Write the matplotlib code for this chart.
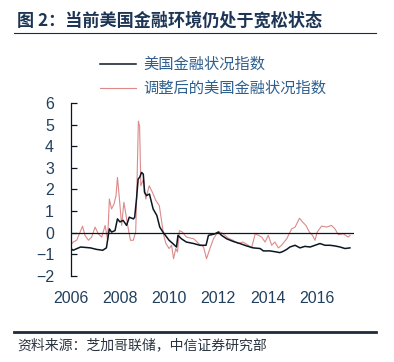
import matplotlib
matplotlib.use('Agg')
import matplotlib.pyplot as plt
from matplotlib.lines import Line2D

plt.rcParams['font.family'] = ['Liberation Sans', 'Noto Sans CJK SC', 'DejaVu Sans']

title = '图 2：当前美国金融环境仍处于宽松状态'
source = '资料来源：芝加哥联储，中信证券研究部'
name1 = '美国金融状况指数'
name2 = '调整后的美国金融状况指数'

# 美国金融状况指数
t1 = [2006.0, 2006.1, 2006.4, 2006.8, 2007.05, 2007.3, 2007.45, 2007.57, 2007.66, 2007.8,
      2007.9, 2008.0, 2008.13, 2008.27, 2008.38, 2008.55, 2008.6, 2008.68, 2008.74, 2008.8,
      2008.88, 2008.95, 2009.0, 2009.08, 2009.2, 2009.35, 2009.5, 2009.62, 2009.75, 2009.9,
      2010.0, 2010.15, 2010.3, 2010.36, 2010.5, 2010.7, 2011.0, 2011.25, 2011.5, 2011.6,
      2011.73, 2011.86, 2012.0, 2012.13, 2012.34, 2012.6, 2012.88, 2013.15, 2013.42, 2013.7,
      2013.83, 2014.1, 2014.37, 2014.5, 2014.64, 2014.78, 2014.91, 2015.12, 2015.32, 2015.52,
      2015.73, 2015.93, 2016.13, 2016.34, 2016.54, 2016.74, 2016.95, 2017.15, 2017.35]
v1 = [-0.73, -0.81, -0.66, -0.70, -0.77, -0.81, -0.70, 0.18, 0.03, 0.10,
      0.64, 0.50, 0.57, 0.34, 0.72, 0.64, 0.72, 1.64, 2.48, 2.56,
      2.79, 2.71, 1.87, 1.72, 1.79, 1.10, 0.80, 0.26, 0.03, -0.20,
      -0.35, -0.50, -0.66, -0.12, -0.28, -0.43, -0.50, -0.58, -0.58, -0.12,
      -0.09, -0.05, 0.03, -0.12, -0.28, -0.40, -0.50, -0.61, -0.70, -0.73,
      -0.84, -0.84, -0.89, -0.92, -0.86, -0.77, -0.66, -0.58, -0.70, -0.63,
      -0.66, -0.58, -0.50, -0.58, -0.58, -0.61, -0.66, -0.73, -0.70]

# 调整后的美国金融状况指数
t2 = [2006.0, 2006.1, 2006.24, 2006.38, 2006.48, 2006.58, 2006.72, 2006.85, 2006.99, 2007.12,
      2007.26, 2007.4, 2007.5, 2007.57, 2007.66, 2007.76, 2007.84, 2007.9, 2007.98, 2008.07,
      2008.16, 2008.25, 2008.34, 2008.43, 2008.54, 2008.64, 2008.68, 2008.75, 2008.8, 2008.85,
      2008.96, 2009.05, 2009.19, 2009.32, 2009.46, 2009.6, 2009.7, 2009.78, 2009.87, 2010.0,
      2010.1, 2010.18, 2010.27, 2010.34, 2010.42, 2010.54, 2010.7, 2011.0, 2011.2, 2011.4,
      2011.52, 2011.66, 2011.8, 2012.0, 2012.13, 2012.27, 2012.4, 2012.6, 2012.8, 2013.0,
      2013.22, 2013.35, 2013.5, 2013.63, 2013.76, 2013.9, 2014.03, 2014.17, 2014.3, 2014.44,
      2014.57, 2014.78, 2014.98, 2015.12, 2015.3, 2015.43, 2015.56, 2015.7, 2015.83, 2015.93,
      2016.02, 2016.2, 2016.4, 2016.6, 2016.74, 2016.88, 2017.08, 2017.28, 2017.35]
v2 = [-0.58, -0.43, -0.35, 0.03, 0.30, -0.12, -0.35, -0.20, 0.26, -0.05,
      -0.20, 0.34, -0.35, 1.56, 1.10, 1.33, 1.71, 2.56, 1.56, 0.34,
      1.41, 0.80, 0.18, -0.35, -0.35, 0.03, 1.56, 5.16, 4.93, 2.17,
      2.48, 1.56, 2.17, 1.87, 1.49, 1.26, 0.49, -0.12, -0.50, -0.73,
      -0.58, -1.20, -0.73, -0.89, 0.10, 0.03, -0.20, -0.28, -0.50, -0.66,
      -1.20, -0.73, -0.28, 0.06, 0.00, -0.12, -0.25, -0.35, -0.50, -0.43,
      -0.58, -0.70, -0.05, -0.12, -0.20, -0.43, -0.12, -0.58, -0.43, -0.70,
      -0.58, -0.28, 0.18, 0.26, 0.67, 0.49, 0.34, 0.03, -0.12, -0.35,
      0.03, 0.31, 0.26, 0.34, 0.18, -0.09, -0.05, -0.20, -0.12]

yticks = [-2, -1, 0, 1, 2, 3, 4, 5, 6]
xticks = [2006, 2008, 2010, 2012, 2014, 2016]

txt = '#22405e'
black = '#0b1622'
red = '#dc8a8a'

fig = plt.figure(figsize=(3.94, 3.62), dpi=100)
ax = fig.add_axes([0.1795, 0.2376, 0.718, 0.4779])

ax.plot(t2, v2, color=red, lw=0.8)
ax.plot(t1, v1, color=black, lw=1.1)
ax.axhline(0, color=black, lw=0.9)

ax.set_xlim(2006, 2017.5)
ax.set_ylim(-2, 6)
ax.set_yticks(yticks)
ax.set_xticks(xticks)
for s in ['top', 'right', 'bottom']:
    ax.spines[s].set_visible(False)
ax.spines['left'].set_color(black)
ax.spines['left'].set_linewidth(0.9)
ax.tick_params(axis='y', direction='in', length=4, width=0.9, color=black,
               pad=12, labelsize=11.5, labelcolor=txt)
ax.tick_params(axis='x', length=0, pad=11, labelsize=11.5, labelcolor=txt)

handles = [Line2D([], [], color=black, lw=1.1), Line2D([], [], color=red, lw=0.8)]
fig.legend(handles, [name1, name2], loc='upper left', bbox_to_anchor=(0.255, 0.845),
           frameon=False, prop={'family': ['Noto Sans CJK SC'], 'size': 11},
           labelcolor='#2f5f8f', handlelength=2.3, handletextpad=0.5,
           labelspacing=0.45, borderpad=0, borderaxespad=0)

fig.text(0.043, 0.942, title, fontsize=12.3, fontweight='bold', color='#1c3554',
         family=['Noto Sans CJK SC'], va='center')
fig.add_artist(Line2D([0.036, 0.954], [0.909, 0.909], color='#1c2c3c', lw=0.8))
fig.add_artist(Line2D([0.036, 0.954], [0.083, 0.083], color='#1c2c3c', lw=2.0))
fig.text(0.043, 0.047, source, fontsize=10, color='#2a3440',
         family=['Noto Sans CJK SC'], va='center')

fig.savefig('out.png', dpi=100)
